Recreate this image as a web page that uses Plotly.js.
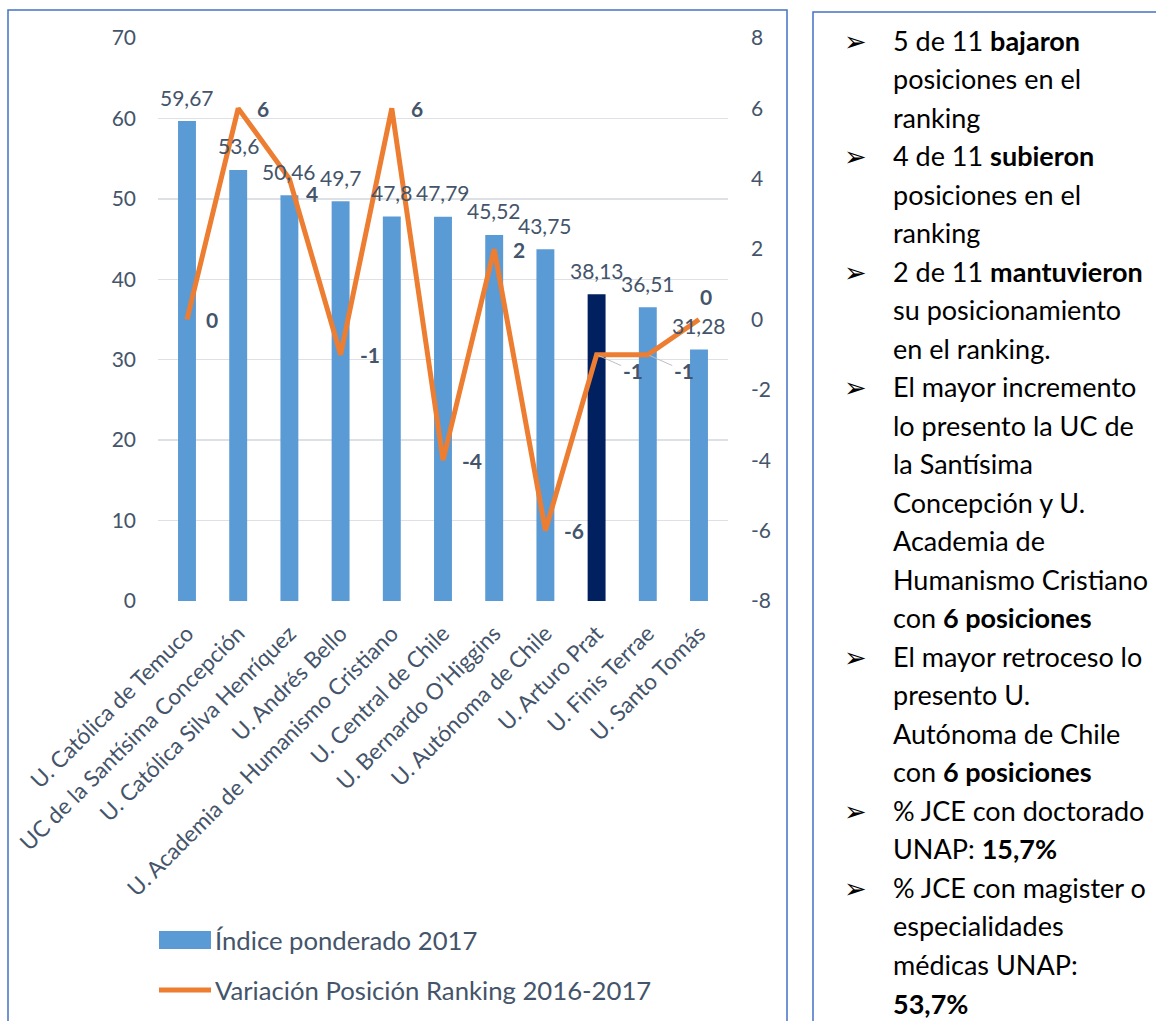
<!DOCTYPE html>
<html><head><meta charset="utf-8">
<script src="https://cdn.plot.ly/plotly-3.0.1.min.js"></script>
<style>html,body{margin:0;padding:0;background:#fff;} #chart{width:1156px;height:1021px;}</style>
</head><body><div id="chart"></div>
<script>
// ---- data ----
const universidades = ["U. Católica de Temuco","UC de la Santísima Concepción","U. Católica Silva Henríquez","U. Andrés Bello","U. Academia de Humanismo Cristiano","U. Central de Chile","U. Bernardo O’Higgins","U. Autónoma de Chile","U. Arturo Prat","U. Finis Terrae","U. Santo Tomás"];
const indicePonderado2017 = [59.67,53.6,50.46,49.7,47.8,47.79,45.52,43.75,38.13,36.51,31.28];
const variacionRanking = [0,6,4,-1,6,-4,2,-6,-1,-1,0];
const ticksIzquierda = [0,10,20,30,40,50,60,70];
const ticksDerecha = [-8,-6,-4,-2,0,2,4,6,8];
const universidadDestacada = "U. Arturo Prat";
const serieBarras = "Índice ponderado 2017";
const serieLinea = "Variación Posición Ranking 2016-2017";
const notas = [
  ["5 de 11 <b>bajaron</b>", true],
  ["posiciones en el", false],
  ["ranking", false],
  ["4 de 11 <b>subieron</b>", true],
  ["posiciones en el", false],
  ["ranking", false],
  ["2 de 11 <b>mantuvieron</b>", true],
  ["su posicionamiento", false],
  ["en el ranking.", false],
  ["El mayor incremento", true],
  ["lo presento la UC de", false],
  ["la Santísima", false],
  ["Concepción y U.", false],
  ["Academia de", false],
  ["Humanismo Cristiano", false],
  ["con <b>6 posiciones</b>", false],
  ["El mayor retroceso lo", true],
  ["presento U.", false],
  ["Autónoma de Chile", false],
  ["con <b>6 posiciones</b>", false],
  ["% JCE con doctorado", true],
  ["UNAP: <b>15,7%</b>", false],
  ["% JCE con magister o", true],
  ["especialidades", false],
  ["médicas UNAP:", false],
  ["<b>53,7%</b>", false]
];

// ---- layout helpers ----
const W = 1156, H = 1021;
const L = 158, R = 728, T = 38, B = 601;
const px2x = p => (p - L) / (R - L);
const px2y = p => (B - p) / (B - T);
const FONT = "Lato, 'DejaVu Sans', sans-serif";
const TXT = "#44546A";
const BAR = "#5B9BD5", BAR_HI = "#002060", LINE = "#ED7D31";

const fmt = v => String(v).replace('.', ',');

const barColors = universidades.map(u => u === universidadDestacada ? BAR_HI : BAR);

const traces = [
  {
    type: "bar", name: serieBarras, x: universidades, y: indicePonderado2017,
    marker: {color: barColors}, width: 0.35, yaxis: "y", hoverinfo: "x+y"
  },
  {
    type: "scatter", mode: "lines", name: serieLinea, x: universidades, y: variacionRanking,
    line: {color: LINE, width: 5}, yaxis: "y2", cliponaxis: false
  }
];

const annotations = [];
// bar value labels
universidades.forEach((u, i) => {
  annotations.push({
    x: u, y: indicePonderado2017[i], xref: "x", yref: "y",
    text: fmt(indicePonderado2017[i]), showarrow: false,
    yanchor: "middle", yshift: 24,
    font: {family: FONT, size: 21, color: TXT}
  });
});
// line value labels (placement tweaks as in the original)
const lineLabelPlacement = {2: {xs: 15, ys: -15}, 8: {arrow: true}, 9: {arrow: true}, 10: {ys: 23, center: true}};
universidades.forEach((u, i) => {
  const p = lineLabelPlacement[i] || {};
  const a = {
    x: u, y: variacionRanking[i], xref: "x", yref: "y2",
    text: "<b>" + variacionRanking[i] + "</b>",
    font: {family: FONT, size: 21, color: TXT}
  };
  if (p.arrow) {
    Object.assign(a, {showarrow: true, arrowhead: 0, arrowwidth: 1, arrowcolor: "#BFBFBF", ax: 36, ay: 16, standoff: 2, xanchor: "center"});
  } else if (p.center) {
    Object.assign(a, {showarrow: false, xanchor: "center", xshift: 7, yshift: p.ys});
  } else {
    Object.assign(a, {showarrow: false, xanchor: "left", xshift: (p.xs !== undefined ? p.xs : 17), yshift: p.ys || 0});
  }
  annotations.push(a);
});
// legend (drawn by hand to match the wide swatches of the original)
annotations.push({xref: "paper", yref: "paper", x: px2x(213), y: px2y(940), xanchor: "left", yanchor: "middle",
  showarrow: false, text: serieBarras, font: {family: FONT, size: 25.7, color: TXT}});
annotations.push({xref: "paper", yref: "paper", x: px2x(213), y: px2y(990), xanchor: "left", yanchor: "middle",
  showarrow: false, text: serieLinea, font: {family: FONT, size: 25.7, color: TXT}});
// side notes
const lineH = 38.52;
notas.forEach((n, i) => {
  const yp = 40 + i * lineH;
  annotations.push({
    xref: "paper", yref: "paper", x: px2x(891), y: px2y(yp),
    xanchor: "left", yanchor: "middle", showarrow: false,
    text: n[0], font: {family: FONT, size: 27, color: "#000"}
  });
  if (n[1]) {
    annotations.push({
      xref: "paper", yref: "paper", x: px2x(842), y: px2y(yp + 1),
      xanchor: "left", yanchor: "middle", showarrow: false,
      text: "➢", font: {family: "'DejaVu Sans', sans-serif", size: 27, color: "#000"}
    });
  }
});

const shapes = [
  {type: "rect", xref: "paper", yref: "paper", x0: px2x(8), x1: px2x(787), y0: px2y(10), y1: px2y(1040),
   line: {color: "#4472C4", width: 1.5}, fillcolor: "rgba(0,0,0,0)", layer: "below"},
  {type: "rect", xref: "paper", yref: "paper", x0: px2x(813), x1: px2x(1170), y0: px2y(12), y1: px2y(1040),
   line: {color: "#4472C4", width: 1.5}, fillcolor: "rgba(0,0,0,0)", layer: "below"},
  // legend swatches
  {type: "rect", xref: "paper", yref: "paper", x0: px2x(159), x1: px2x(211), y0: px2y(931), y1: px2y(949),
   line: {width: 0}, fillcolor: BAR},
  {type: "line", xref: "paper", yref: "paper", x0: px2x(159), x1: px2x(211), y0: px2y(990), y1: px2y(990),
   line: {color: LINE, width: 5}}
];

const layout = {
  width: W, height: H,
  margin: {l: L, r: W - R, t: T, b: H - B, pad: 0},
  paper_bgcolor: "#fff", plot_bgcolor: "#fff",
  font: {family: FONT, color: TXT},
  showlegend: false,
  xaxis: {type: "category", tickangle: -45, tickfont: {family: FONT, size: 22.5, color: TXT},
          showgrid: false, showline: false, zeroline: false, ticks: "", ticklabelstandoff: 14,
          fixedrange: true},
  yaxis: {range: [0, 70], tickvals: ticksIzquierda, showgrid: true, gridcolor: "#DDE0E4", gridwidth: 1.5,
          zeroline: false, showline: false, ticks: "", ticklabelstandoff: 21,
          tickfont: {family: FONT, size: 21, color: TXT}, fixedrange: true},
  yaxis2: {range: [-8, 8], tickvals: ticksDerecha, ticktext: ticksDerecha.map(v => String(v)),
           overlaying: "y", side: "right", showgrid: false,
           zeroline: false, showline: false, ticks: "", ticklabelstandoff: 22,
           tickfont: {family: FONT, size: 21, color: TXT}, fixedrange: true},
  bargap: 0.65,
  annotations: annotations,
  shapes: shapes
};

Plotly.newPlot("chart", traces, layout, {displayModeBar: false, staticPlot: true});
</script>
</body></html>
